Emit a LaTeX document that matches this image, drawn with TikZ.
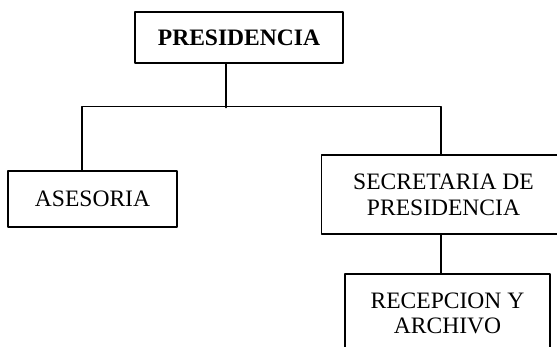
\documentclass[tikz,border=0pt]{standalone}
\usepackage{fontspec}
\setmainfont{Liberation Serif}
\usetikzlibrary{calc}
\tikzset{
every picture/.append style={
    line join=round,
    line cap=round
  },
unitbox/.style={draw,line width=.6pt,align=center,inner sep=0pt,
    font=\fontsize{13.4}{14.6}\selectfont},
link/.style={line width=.9pt}}

\begin{document}
\begin{tikzpicture}[x=.02cm,y=-.02cm]
        \clip (0,0) rectangle (557,347);
        \node [unitbox,minimum width=4.16cm,minimum height=1.02cm] (pres) at (239,37.5) {\textbf{PRESIDENCIA}};
        \node [unitbox,minimum width=3.38cm,minimum height=1.12cm] (ases) at (92.5,199) {ASESORIA};
        \node [unitbox,minimum width=4.9cm,minimum height=1.58cm] (secr) at (443.5,194.5) {SECRETARIA DE\\PRESIDENCIA};
        \node [unitbox,minimum width=4.1cm,minimum height=1.58cm] (recp) at (447.5,313.5) {RECEPCION Y\\ARCHIVO};
    
        \draw [link] ($(pres.south)+(-13,0)$) -- ++(0,44);
        \draw [link] ($(ases.north)+(-10.5,0)$) -- ++(0,-64) -| ($(secr.north)+(-2.5,0)$);
        \draw [link] ($(secr.south)+(-2.5,0)$) -- ($(recp.north)+(-6.5,0)$);
    \end{tikzpicture}
\end{document}
